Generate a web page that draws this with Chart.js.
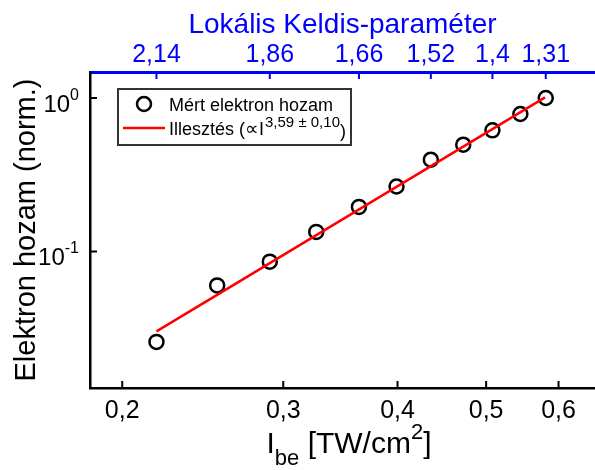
<!DOCTYPE html>
<html>
<head>
<meta charset="utf-8">
<script src="https://cdn.jsdelivr.net/npm/chart.js@4.4.1/dist/chart.umd.min.js"></script>
<style>
  html, body { margin: 0; padding: 0; background: #fff; }
  canvas { display: block; }
</style>
</head>
<body>
<canvas id="c" width="595" height="470"></canvas>
<script>
const FONT = '"Liberation Sans", Arial, Helvetica, sans-serif';
const BLUE = '#0000ff';

// Measured electron yield (normalised) vs. incident peak intensity [TW/cm^2]
const intensity     = [0.218, 0.254, 0.290, 0.326, 0.363, 0.399, 0.435, 0.472, 0.508, 0.545, 0.581];
const electronYield = [0.0257, 0.0600, 0.0857, 0.134, 0.195, 0.265, 0.396, 0.496, 0.615, 0.786, 1.0];

// Power-law fit, a straight line on log-log axes: its two end points
const fitIntensity = [0.218, 0.580];
const fitYield     = [0.0301, 1.01];
const fitExponent  = '3,59 ± 0,10';

// Axis limits and ticks
const xRange = [0.1844, 0.6577];
const yRange = [0.01287, 1.477];
const xTickValues = [0.2, 0.3, 0.4, 0.5, 0.6];
const xTickLabels = ['0,2', '0,3', '0,4', '0,5', '0,6'];
const yTickValues = [1, 0.1];
const yTickExponents = ['0', '-1'];

// Local Keldysh parameter on the top axis, at every second intensity
const keldyshIntensity = [0.218, 0.290, 0.363, 0.435, 0.508, 0.581];
const keldyshLabels = ['2,14', '1,86', '1,66', '1,52', '1,4', '1,31'];

const seriesLabel = 'Mért elektron hozam';
const fitLabel = 'Illesztés';

function font(size) { return size + 'px ' + FONT; }

// Inward tick marks, superscripted y labels, x title and the legend box
const decorations = {
  id: 'decorations',
  afterDraw(chart) {
    const { ctx, chartArea: a, scales } = chart;
    ctx.save();

    // tick marks pointing into the plot
    ctx.lineWidth = 2;
    ctx.strokeStyle = '#000';
    ctx.beginPath();
    xTickValues.forEach(v => {
      const px = scales.x.getPixelForValue(v);
      ctx.moveTo(px, a.bottom); ctx.lineTo(px, a.bottom - 7);
    });
    yTickValues.forEach(v => {
      const py = scales.y.getPixelForValue(v);
      ctx.moveTo(a.left, py); ctx.lineTo(a.left + 7, py);
    });
    ctx.stroke();
    ctx.strokeStyle = BLUE;
    ctx.beginPath();
    keldyshIntensity.forEach(v => {
      const px = scales.x2.getPixelForValue(v);
      ctx.moveTo(px, a.top); ctx.lineTo(px, a.top + 7);
    });
    ctx.stroke();

    // y tick labels: 10 with a raised exponent
    ctx.fillStyle = '#000';
    ctx.textAlign = 'left';
    ctx.textBaseline = 'alphabetic';
    yTickValues.forEach((v, i) => {
      const py = scales.y.getPixelForValue(v);
      const sup = yTickExponents[i];
      ctx.font = font(16);
      const wSup = ctx.measureText(sup).width;
      ctx.font = font(24);
      const wBase = ctx.measureText('10').width;
      const right = a.left - 11;
      ctx.fillText('10', right - wSup - wBase, py + 14);
      ctx.font = font(16);
      ctx.fillText(sup, right - wSup, py + 2);
    });

    // x axis title: I_be [TW/cm^2]
    const parts = [
      { t: 'I', size: 30, dy: 0 },
      { t: 'be', size: 22, dy: 12 },
      { t: ' [TW/cm', size: 30, dy: 0 },
      { t: '2', size: 22, dy: -14 },
      { t: ']', size: 30, dy: 0 }
    ];
    let total = 0;
    parts.forEach(p => { ctx.font = font(p.size); p.w = ctx.measureText(p.t).width; total += p.w; });
    let cx = 349 - total / 2;
    const base = 453;
    parts.forEach(p => {
      ctx.font = font(p.size);
      ctx.fillText(p.t, cx, base + p.dy);
      cx += p.w;
    });

    // legend
    const lx = 118, ly = 89, lw = 233, lh = 56;
    ctx.fillStyle = '#fff';
    ctx.fillRect(lx, ly, lw, lh);
    ctx.lineWidth = 2;
    ctx.strokeStyle = '#333';
    ctx.strokeRect(lx, ly, lw, lh);

    const ds0 = chart.data.datasets[0];
    const ds1 = chart.data.datasets[1];
    ctx.lineWidth = ds0.borderWidth;
    ctx.strokeStyle = ds0.borderColor;
    ctx.beginPath();
    ctx.arc(144, 104, ds0.pointRadius, 0, Math.PI * 2);
    ctx.stroke();
    ctx.fillStyle = '#000';
    ctx.font = font(18);
    ctx.fillText(ds0.label, 169, 110.5);

    ctx.lineWidth = ds1.borderWidth;
    ctx.strokeStyle = ds1.borderColor;
    ctx.beginPath();
    ctx.moveTo(123, 128); ctx.lineTo(165, 128);
    ctx.stroke();

    let tx = 169;
    const row2 = 135;
    const seg = [
      { t: ds1.label + ' (', size: 18, dy: 0 },
      { t: '∝', size: 19, dy: 0 },
      { t: 'I', size: 18, dy: 0 },
      { t: fitExponent, size: 15, dy: -8 },
      { t: ')', size: 18, dy: 2 }
    ];
    seg.forEach(s => {
      ctx.font = font(s.size);
      ctx.fillText(s.t, tx, row2 + s.dy);
      tx += ctx.measureText(s.t).width + (s.t === 'I' ? 1 : 0);
    });

    ctx.restore();
  }
};

// keep the horizontal axes flush with the canvas edges
function noSidePadding(s) { s.paddingLeft = 0; s.paddingRight = 0; }

new Chart(document.getElementById('c'), {
  type: 'line',
  data: {
    datasets: [
      {
        label: seriesLabel,
        data: intensity.map((x, i) => ({ x, y: electronYield[i] })),
        showLine: false,
        pointStyle: 'circle',
        pointRadius: 7,
        pointHoverRadius: 7,
        pointBorderWidth: 2.5,
        borderWidth: 2.5,
        borderColor: '#000',
        pointBorderColor: '#000',
        backgroundColor: 'rgba(0,0,0,0)',
        pointBackgroundColor: 'rgba(0,0,0,0)',
        order: 2
      },
      {
        label: fitLabel,
        data: fitIntensity.map((x, i) => ({ x, y: fitYield[i] })),
        borderColor: '#ff0000',
        borderWidth: 2.5,
        pointRadius: 0,
        fill: false,
        order: 1
      }
    ]
  },
  options: {
    responsive: false,
    animation: false,
    devicePixelRatio: 1,
    layout: { padding: 0, autoPadding: false },
    plugins: { legend: { display: false }, tooltip: { enabled: false } },
    scales: {
      x: {
        type: 'logarithmic',
        position: 'bottom',
        min: xRange[0],
        max: xRange[1],
        grid: { display: false, drawTicks: false },
        border: { display: true, color: '#000', width: 2.5 },
        afterBuildTicks: s => { s.ticks = xTickValues.map(v => ({ value: v })); },
        afterFit: s => { s.height = 82; noSidePadding(s); },
        ticks: {
          autoSkip: false,
          maxRotation: 0,
          padding: 8,
          color: '#000',
          font: { family: FONT, size: 25 },
          callback: (v, i) => xTickLabels[i]
        }
      },
      x2: {
        type: 'logarithmic',
        position: 'top',
        axis: 'x',
        min: xRange[0],
        max: xRange[1],
        grid: { display: false, drawTicks: false },
        border: { display: true, color: BLUE, width: 3 },
        afterBuildTicks: s => { s.ticks = keldyshIntensity.map(v => ({ value: v })); },
        afterFit: s => { s.height = 72; noSidePadding(s); },
        ticks: {
          autoSkip: false,
          maxRotation: 0,
          padding: 2,
          color: BLUE,
          font: { family: FONT, size: 25 },
          callback: (v, i) => keldyshLabels[i]
        },
        title: {
          display: true,
          text: 'Lokális Keldis-paraméter',
          color: BLUE,
          font: { family: FONT, size: 28 },
          padding: { top: 8, bottom: 0 }
        }
      },
      y: {
        type: 'logarithmic',
        position: 'left',
        min: yRange[0],
        max: yRange[1],
        grid: { display: false, drawTicks: false },
        border: { display: true, color: '#000', width: 2.5 },
        afterBuildTicks: s => { s.ticks = yTickValues.map(v => ({ value: v })); },
        afterFit: s => { s.width = 90; },
        ticks: { display: false },
        title: {
          display: true,
          text: 'Elektron hozam (norm.)',
          color: '#000',
          font: { family: FONT, size: 29 },
          padding: { top: 10, bottom: 0 }
        }
      }
    }
  },
  plugins: [decorations]
});
</script>
</body>
</html>
